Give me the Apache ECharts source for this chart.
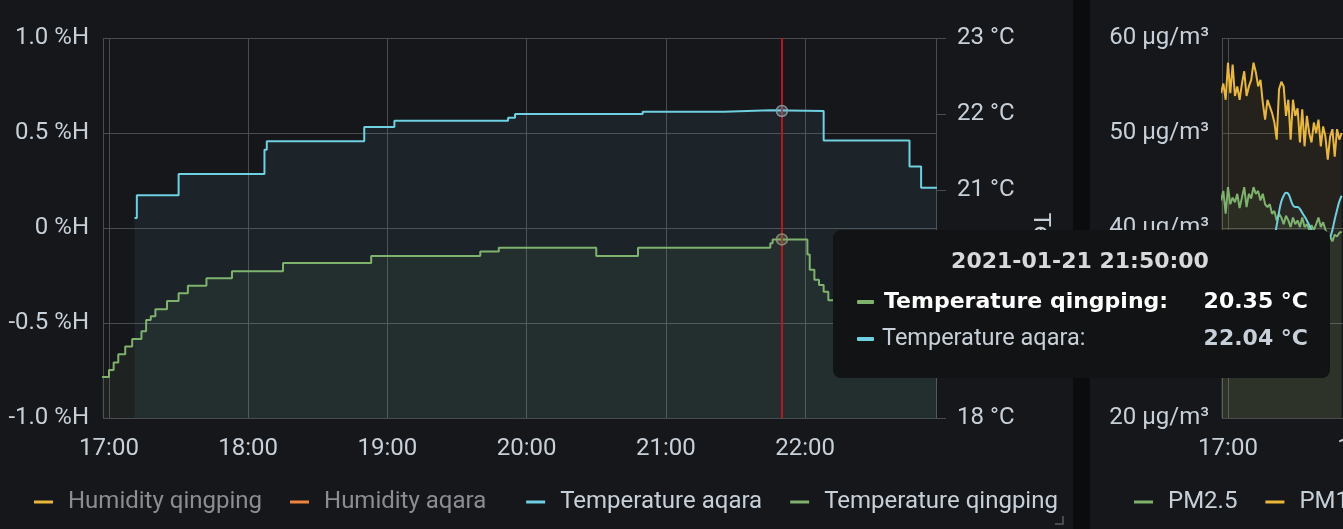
<!DOCTYPE html>
<html><head><meta charset="utf-8">
<script src="https://cdn.jsdelivr.net/npm/echarts@6/dist/echarts.min.js"></script>
<style>html,body{margin:0;padding:0;background:#16171b;}#c{width:1343px;height:529px;}</style>
</head><body><div id="c"></div>
<script>
// ---------- data ----------
const day = '2021-01-21';
const viewStart = '16:57:25';
const viewEnd = '22:56:25';
const hoverTime = '21:50';

const leftLegend = ['Humidity qingping', 'Humidity aqara', 'Temperature aqara', 'Temperature qingping'];
const rightLegend = ['PM2.5', 'PM10', 'PM1.0'];

// Temperature aqara: value changes (step) at these times
const aqaraTimes  = ['17:11','17:12','17:30','18:07','18:08','18:50','19:03','19:52','19:55','20:50','21:25','21:45','22:08','22:45','22:50','22:57'];
const aqaraValues = [20.63, 20.93, 21.21, 21.53, 21.64, 21.83, 21.91, 21.95, 22.00, 22.03, 22.05, 22.04, 21.65, 21.31, 21.03, 21.03];

// Temperature qingping
const qingTimes  = ['16:57','17:00','17:02','17:04','17:07','17:10','17:14','17:16','17:18','17:20','17:25','17:30','17:34','17:42','17:53','18:15','18:53','19:40','19:48','20:30','20:48','21:45','21:46','22:00','22:01','22:02','22:04','22:06','22:08','22:10','22:13','22:17','22:22','22:30','22:40','22:50','22:57'];
const qingValues = [18.54, 18.63, 18.73, 18.84, 18.94, 19.04, 19.14, 19.29, 19.34, 19.43, 19.54, 19.64, 19.74, 19.84, 19.93, 20.04, 20.13, 20.19, 20.24, 20.13, 20.24, 20.30, 20.35, 20.35, 20.15, 19.95, 19.82, 19.75, 19.66, 19.55, 19.48, 19.40, 19.33, 19.27, 19.22, 19.18, 19.18];

// right panel, one value per minute from pmStart
const pmStart = '16:57';
const pm25Values = [42.9,43.9,41.5,44.3,42.5,43.2,42.7,43.6,42.1,43.2,44.3,42.2,43.6,43.1,44.3,43.6,43.9,42.9,43.6,42.5,42.2,42.5,41.5,41.8,40.8,41.5,41.1,40.4,41.3,40.8,40.1,41.1,40.4,40.8,40.1,41.1,40.1,40.4,39.8,40.3,39.8,40.4,41.1,40.1,40.6,39.8,39.1,39.1,38.6,39.3,39.1,39.5,39.6];
const pm10Values = [54.2,55.2,53.5,57.4,54.2,57.2,53.9,54.9,53.5,55.2,56.5,53.9,54.9,55.6,57.4,56.4,54.9,55.6,53.2,51.4,53.5,52.8,52.1,51.1,49.3,54.6,55.4,54.9,51.8,53.5,49.3,53.5,51.8,52.6,49.0,52.5,48.6,51.8,50.0,49.0,51.1,50.0,51.4,48.6,50.7,49.6,47.2,49.6,50.4,47.5,50.4,49.3,50.0];
const pm1Values  = [37.0,37.2,37.1,36.9,37.0,37.3,37.5,37.4,37.2,37.0,36.8,36.9,37.1,37.4,37.6,37.5,37.3,37.1,37.0,37.2,37.5,37.9,38.3,39.0,40.3,41.7,42.8,43.4,43.7,43.6,43.0,42.4,42.2,42.2,42.0,41.6,41.2,40.8,40.3,39.8,39.2,38.6,38.1,37.8,37.9,38.2,38.6,39.0,39.8,40.9,41.9,42.8,43.4];

// ---------- helpers ----------
function ts(s){ const p = s.split(':').map(Number); return new Date(2021,0,21,p[0],p[1],p[2]||0).getTime(); }
function pairs(times, vals){ return times.map((t,i)=>[ts(t), vals[i]]); }
function perMinute(start, vals){ const t0 = ts(start); return vals.map((v,i)=>[t0 + i*60000, v]); }
function valueAt(times, vals, t){ let v = vals[0]; times.forEach((x,i)=>{ if (ts(x) <= ts(t)) v = vals[i]; }); return v; }
function hhmm(v){ const d = new Date(v); return String(d.getHours()).padStart(2,'0') + ':' + String(d.getMinutes()).padStart(2,'0'); }

const hoverAqara = valueAt(aqaraTimes, aqaraValues, hoverTime);
const hoverQing = valueAt(qingTimes, qingValues, hoverTime);

const C = { green:'#7EB26D', yellow:'#EAB839', cyan:'#6ED0E0', orange:'#EF843C' };
const TXT = '#c7d0d9', GRID = '#4a4b50', FONT = 'Roboto';

function xAxisCfg(gridIndex){
  return {
    type:'time', gridIndex, min: ts(viewStart), max: ts(viewEnd),
    splitNumber: 6, minInterval: 3600000, maxInterval: 3600000,
    axisLine:{show:false}, axisTick:{show:false},
    axisLabel:{ color:TXT, fontSize:24, fontFamily:FONT, margin:19, formatter:(v)=>hhmm(v), showMinLabel:false, showMaxLabel:false, hideOverlap:false },
    splitLine:{ show:true, lineStyle:{ color:GRID, width:1 } }
  };
}

const lineBase = { type:'line', symbol:'none', animation:false, lineStyle:{width:2} };
const TIP = { zlevel:5 };

const chart = echarts.init(document.getElementById('c'), null, {renderer:'canvas'});
chart.setOption({
  animation:false,
  backgroundColor:'#16171b',
  grid:[
    { left:103, top:38, width:833, height:380, outerBoundsMode:'none', containLabel:false },
    { left:1222, top:38, width:833, height:380, outerBoundsMode:'none', containLabel:false }
  ],
  xAxis:[ xAxisCfg(0), xAxisCfg(1) ],
  yAxis:[
    { type:'value', gridIndex:0, min:-1, max:1, interval:0.5, position:'left',
      axisLine:{show:false}, axisTick:{show:false},
      axisLabel:{ color:TXT, fontSize:24, fontFamily:FONT, margin:14, formatter:(v)=> (v===0 ? '0' : v.toFixed(1)) + ' %H' },
      splitLine:{ show:true, lineStyle:{ color:GRID, width:1 } } },
    { type:'value', gridIndex:0, min:18, max:23, interval:1, position:'right',
      name:'Temperature', nameLocation:'middle', nameRotate:-90, nameGap:92,
      nameTextStyle:{ color:TXT, fontSize:24, fontFamily:FONT, padding:[0,0,0,105] },
      axisLine:{show:false}, axisTick:{show:true, length:10, lineStyle:{color:GRID}},
      axisLabel:{ color:TXT, fontSize:24, fontFamily:FONT, margin:21, formatter:(v)=> v + ' °C' },
      splitLine:{show:false} },
    { type:'value', gridIndex:1, min:20, max:60, interval:10, position:'left',
      axisLine:{show:false}, axisTick:{show:false},
      axisLabel:{ color:TXT, fontSize:24, fontFamily:FONT, margin:13, formatter:(v)=> v + ' \u00b5g/m\u00b3' },
      splitLine:{ show:true, lineStyle:{ color:GRID, width:1 } } }
  ],
  legend:[
    { left:34, top:490, padding:0, width:1100, icon:'rect', itemWidth:19, itemHeight:3, itemGap:28, selectedMode:false,
      formatter:(name)=> name === leftLegend[1] ? name + '\u00a0\u00a0' : name,
      textStyle:{ color:TXT, fontSize:24, fontFamily:FONT, padding:[0,0,0,10] },
      data:[
        { name:leftLegend[0], textStyle:{ color:'#8c8d92' } },
        { name:leftLegend[1], textStyle:{ color:'#8c8d92' } },
        { name:leftLegend[2] },
        { name:leftLegend[3] }
      ] },
    { left:1134, top:490, padding:0, width:1000, icon:'rect', itemWidth:19, itemHeight:3, itemGap:28, selectedMode:false,
      textStyle:{ color:TXT, fontSize:24, fontFamily:FONT, padding:[0,0,0,10] },
      data:[ { name:rightLegend[0], textStyle:{ padding:[0,5,0,10] } }, { name:rightLegend[1] }, { name:rightLegend[2] } ] }
  ],
  series:[
    Object.assign({}, lineBase, { name:leftLegend[0], xAxisIndex:0, yAxisIndex:0, color:C.yellow, data:[] }),
    Object.assign({}, lineBase, { name:leftLegend[1], xAxisIndex:0, yAxisIndex:0, color:C.orange, data:[] }),
    Object.assign({}, lineBase, { name:leftLegend[2], xAxisIndex:0, yAxisIndex:1, color:C.cyan, step:'end',
      data: pairs(aqaraTimes, aqaraValues),
      areaStyle:{ color:'rgba(110,208,224,0.10)', origin:'start' },
      markLine:{ silent:true, symbol:['none','none'], label:{show:false},
        lineStyle:{ color:'#b8161d', width:2, type:'solid' },
        data:[ { xAxis: ts(hoverTime) } ] },
      markPoint:{ silent:true, symbol:'circle', symbolSize:11, label:{show:false},
        itemStyle:{ color:'rgba(110,208,224,0.25)', borderColor:'rgba(150,160,170,0.85)', borderWidth:1.5 },
        data:[ { coord:[ts(hoverTime), hoverAqara] } ] } }),
    Object.assign({}, lineBase, { name:leftLegend[3], xAxisIndex:0, yAxisIndex:1, color:C.green, step:'end',
      data: pairs(qingTimes, qingValues),
      areaStyle:{ color:'rgba(126,178,109,0.11)', origin:'start' },
      markPoint:{ silent:true, symbol:'circle', symbolSize:11, label:{show:false},
        itemStyle:{ color:'rgba(126,178,109,0.25)', borderColor:'rgba(160,150,130,0.85)', borderWidth:1.5 },
        data:[ { coord:[ts(hoverTime), hoverQing] } ] } }),
    Object.assign({}, lineBase, { name:rightLegend[0], xAxisIndex:1, yAxisIndex:2, color:C.green,
      data: perMinute(pmStart, pm25Values), areaStyle:{ color:'rgba(126,178,109,0.10)', origin:'start' } }),
    Object.assign({}, lineBase, { name:rightLegend[1], xAxisIndex:1, yAxisIndex:2, color:C.yellow,
      data: perMinute(pmStart, pm10Values), areaStyle:{ color:'rgba(234,184,57,0.10)', origin:'start' } }),
    Object.assign({}, lineBase, { name:rightLegend[2], xAxisIndex:1, yAxisIndex:2, color:C.cyan, smooth:true,
      data: perMinute(pmStart, pm1Values), areaStyle:{ color:'rgba(110,208,224,0.06)', origin:'start' } })
  ],
  graphic:[
    Object.assign({ type:'rect', z:50, shape:{ x:1073, y:0, width:17, height:529 }, style:{ fill:'#0b0c0e' } }, TIP),
    Object.assign({ type:'polyline', z:50, shape:{ points:[[1055,524],[1063,524],[1063,516]] }, style:{ stroke:'#5a5b60', lineWidth:1.5, fill:null } }, TIP),
    Object.assign({ type:'rect', z:100, shape:{ x:833, y:230, width:497, height:148, r:8 }, style:{ fill:'#121314' } }, TIP),
    Object.assign({ type:'text', z:101, style:{ x:1080, y:262, text: day + ' ' + hoverTime + ':00', fill:'#d8d9da',
        font:'bold 22px "DejaVu Sans"', align:'center', verticalAlign:'middle', textAlign:'center', textVerticalAlign:'middle' } }, TIP),
    Object.assign({ type:'rect', z:101, shape:{ x:857, y:300, width:17, height:4, r:1 }, style:{ fill:C.green } }, TIP),
    Object.assign({ type:'text', z:101, style:{ x:884, y:302, text: leftLegend[3] + ':', fill:'#ffffff',
        font:'bold 22px "DejaVu Sans"', align:'left', verticalAlign:'middle', textAlign:'left', textVerticalAlign:'middle' } }, TIP),
    Object.assign({ type:'text', z:101, style:{ x:1308, y:302, text: hoverQing.toFixed(2) + ' °C', fill:'#ffffff',
        font:'bold 22px "DejaVu Sans"', align:'right', verticalAlign:'middle', textAlign:'right', textVerticalAlign:'middle' } }, TIP),
    Object.assign({ type:'rect', z:101, shape:{ x:857, y:337, width:17, height:4, r:1 }, style:{ fill:C.cyan } }, TIP),
    Object.assign({ type:'text', z:101, style:{ x:882, y:339, text: leftLegend[2] + ':', fill:TXT,
        font:'23.5px Roboto', align:'left', verticalAlign:'middle', textAlign:'left', textVerticalAlign:'middle' } }, TIP),
    Object.assign({ type:'text', z:101, style:{ x:1308, y:339, text: hoverAqara.toFixed(2) + ' °C', fill:TXT,
        font:'bold 22px "DejaVu Sans"', align:'right', verticalAlign:'middle', textAlign:'right', textVerticalAlign:'middle' } }, TIP)
  ]
});
</script>
</body></html>
